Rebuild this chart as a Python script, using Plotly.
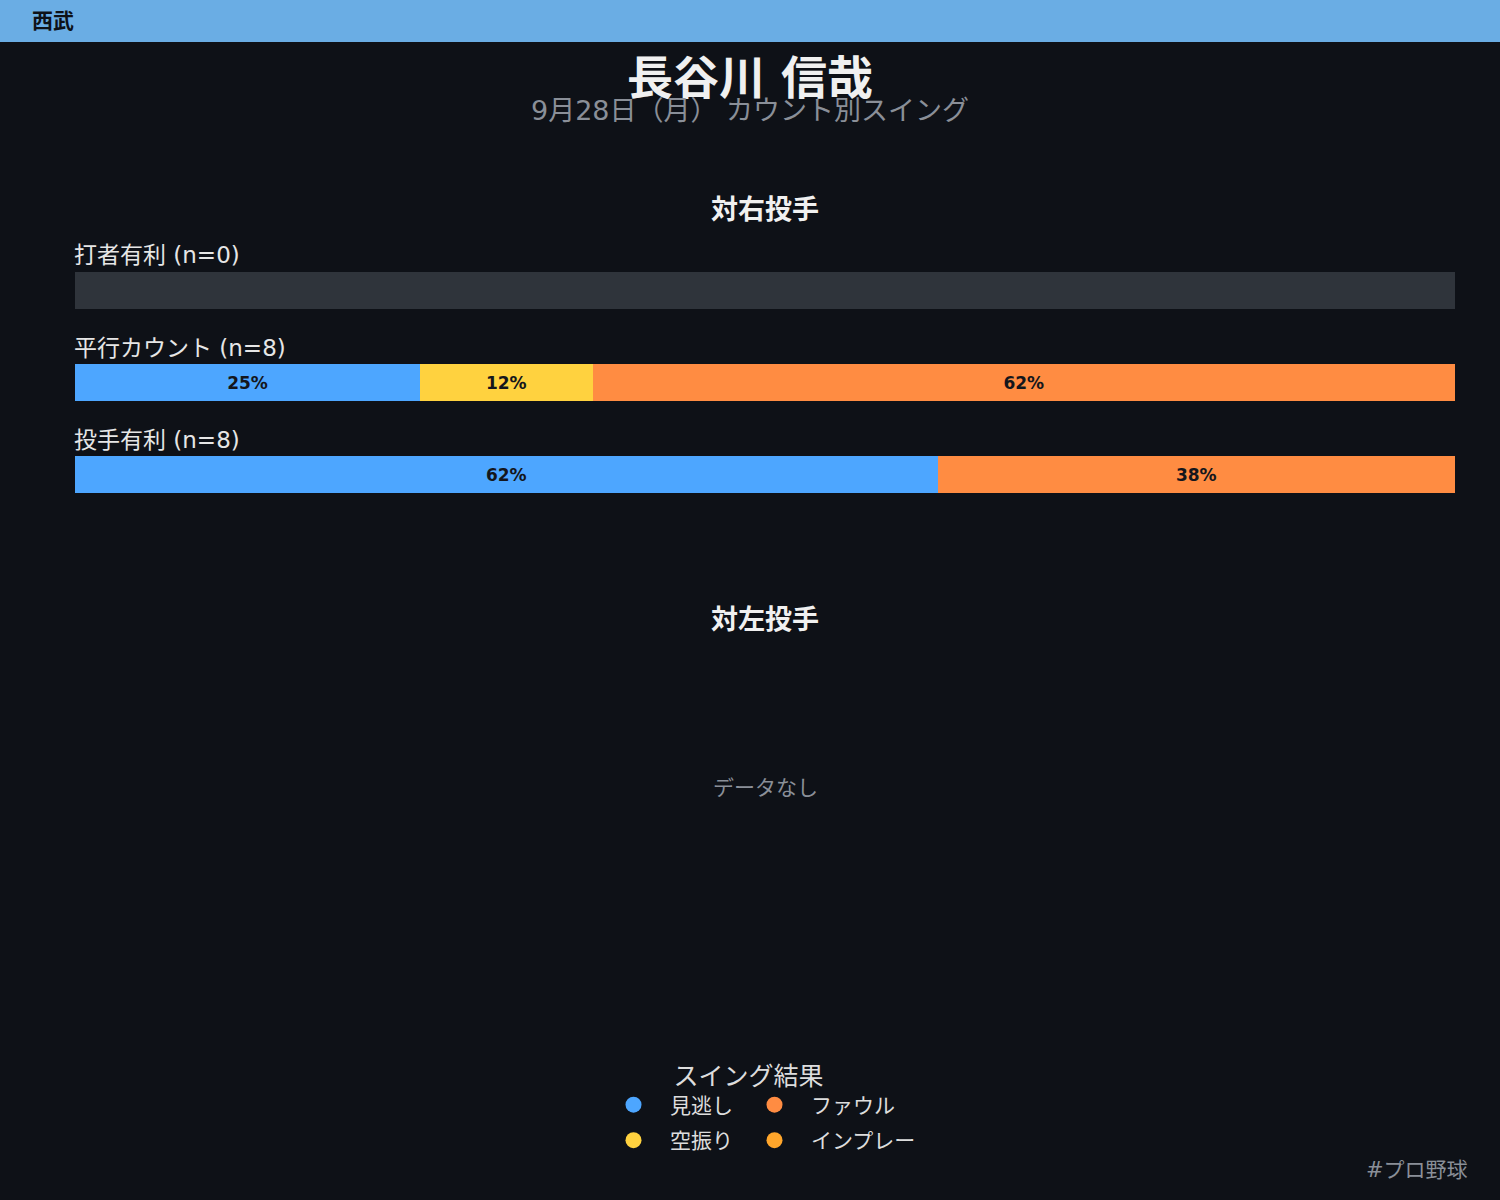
import plotly.graph_objects as go

# data
player = "長谷川 信哉"
team = "西武"
subtitle = "9月28日（月） カウント別スイング"
categories = ["打者有利", "平行カウント", "投手有利"]
outcomes = ["見逃し", "空振り", "ファウル", "インプレー"]
colors = ["#4da6ff", "#ffd23f", "#ff8c42", "#ffa62b"]

# counts vs right-handed pitchers, per category
minogashi_r = [0, 2, 5]
karaburi_r = [0, 1, 0]
foul_r = [0, 5, 3]
inplay_r = [0, 0, 0]

# counts vs left-handed pitchers (no data)
minogashi_l = []
karaburi_l = []
foul_l = []
inplay_l = []

counts_r = [minogashi_r, karaburi_r, foul_r, inplay_r]
n_r = [sum(c[i] for c in counts_r) for i in range(len(categories))]

W, H = 1500, 1200
BG = "#0e1117"
FONT = "DejaVu Sans, Noto Sans CJK JP"


def px_x(v):
    return v / W


def px_y(v):
    return 1 - v / H


fig = go.Figure()

# grey placeholder for rows with no pitches
fig.add_trace(go.Bar(
    x=[1 if n == 0 else 0 for n in n_r],
    y=categories,
    orientation="h",
    marker=dict(color="#2f343b", line=dict(width=0)),
    showlegend=False,
    hoverinfo="skip",
))

for name, col, cnt in zip(outcomes, colors, counts_r):
    pct = [c / n if n else 0 for c, n in zip(cnt, n_r)]
    txt = [f"{p:.0%}" if p > 0 else "" for p in pct]
    fig.add_trace(go.Bar(
        x=pct,
        y=categories,
        orientation="h",
        name=name,
        marker=dict(color=col, line=dict(width=0)),
        text=txt,
        textposition="inside",
        insidetextanchor="middle",
        textangle=0,
        textfont=dict(family=FONT, size=17, color="#14161c", weight="bold"),
        showlegend=False,
        hovertemplate=name + ": %{x:.0%}<extra></extra>",
    ))

# legend entries as circles, split in two rows
for i, (name, col) in enumerate(zip(outcomes, colors)):
    fig.add_trace(go.Scatter(
        x=[None], y=[None], mode="markers", name=name,
        marker=dict(color=col, size=22, symbol="circle"),
        legend="legend" if i % 2 == 0 else "legend2",
    ))

leg_common = dict(
    orientation="h", x=px_x(597), xanchor="left", yanchor="top",
    font=dict(size=21, color="#dddddd"), bgcolor="rgba(0,0,0,0)",
    itemwidth=63, itemsizing="trace", traceorder="normal",
)

fig.update_layout(
    width=W, height=H,
    paper_bgcolor=BG, plot_bgcolor=BG,
    margin=dict(l=0, r=0, t=0, b=0),
    barmode="stack",
    bargap=0.6,
    font=dict(family=FONT, color="#e6e6e6"),
    xaxis=dict(domain=[px_x(75), px_x(1455)], range=[0, 1], visible=False, fixedrange=True),
    yaxis=dict(domain=[px_y(521), px_y(244)], range=[2.5, -0.5], visible=False,
               categoryorder="array", categoryarray=categories, fixedrange=True),
    legend=dict(
        y=px_y(1052),
        title=dict(text="スイング結果", side="top center", font=dict(size=25, color="#dddddd")),
        **leg_common,
    ),
    legend2=dict(y=px_y(1120), **leg_common),
    shapes=[dict(type="rect", xref="paper", yref="paper", x0=0, x1=1, y0=px_y(42), y1=1,
                 fillcolor="#6aade4", line=dict(width=0), layer="below")],
)

ann = [
    dict(text=f"<b>{team}</b>", x=px_x(30), xanchor="left", y=px_y(21), font=dict(size=21, color="#0e1117")),
    dict(text=f"<b>{player}</b>", x=px_x(750), y=px_y(78), font=dict(size=46, color="#f0f0f0")),
    dict(text=subtitle, x=px_x(750), y=px_y(110), font=dict(size=27, color="#8a8f98")),
    dict(text="<b>対右投手</b>", x=px_x(765), y=px_y(209), font=dict(size=27, color="#f0f0f0")),
    dict(text="<b>対左投手</b>", x=px_x(765), y=px_y(619), font=dict(size=27, color="#f0f0f0")),
    dict(text="データなし", x=px_x(765), y=px_y(788), font=dict(size=21, color="#8a8f98")),
    dict(text="#プロ野球", x=px_x(1470), xanchor="right", y=px_y(1170), font=dict(size=21, color="#8a8f98")),
]
for a in ann:
    a.setdefault("xanchor", "center")
    fig.add_annotation(xref="paper", yref="paper", yanchor="middle", showarrow=False, **a)

for cat, n in zip(categories, n_r):
    fig.add_annotation(
        text=f"{cat} (n={n})", xref="paper", x=px_x(72), xanchor="left",
        yref="y", y=cat, yanchor="middle", yshift=35, showarrow=False,
        font=dict(size=23, color="#e6e6e6"),
    )

fig.write_html("out.html", config={"displayModeBar": False},
               post_script="document.body.style.margin='0';")
